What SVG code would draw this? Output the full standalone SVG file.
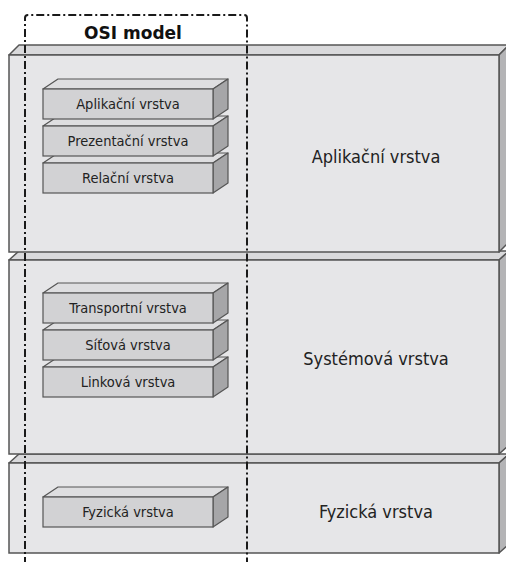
<svg xmlns="http://www.w3.org/2000/svg" width="506" height="562" viewBox="0 0 506 562">
<style>
.sf{fill:#e6e6e8;stroke:#555;stroke-width:1.5}
.st{fill:#d9d9db;stroke:#555;stroke-width:1.5;stroke-linejoin:round}
.ss{fill:#b4b4b6;stroke:#555;stroke-width:1.5;stroke-linejoin:round}
.bf{fill:#d2d2d4;stroke:#555;stroke-width:1.2}
.bt{fill:#dedee0;stroke:#555;stroke-width:1.2;stroke-linejoin:round}
.bs{fill:#a6a6a8;stroke:#555;stroke-width:1.2;stroke-linejoin:round}
.bl{font-family:"DejaVu Sans Condensed","Liberation Sans",sans-serif;font-size:14.5px;fill:#222;text-anchor:middle}
.sl{font-family:"DejaVu Sans Condensed","Liberation Sans",sans-serif;font-size:18px;fill:#222;text-anchor:middle}
.osi{fill:none;stroke:#1a1a1a;stroke-width:2;stroke-dasharray:8 3 2 3}
</style>
<g id="slab-fyzicka">
<polygon class="st" points="9,463 19,454 509,454 499,463"/>
<polygon class="ss" points="499,463 509,454 509,544 499,553"/>
<rect class="sf" x="9" y="463" width="490" height="90"/>
<text class="sl" x="376" y="518">Fyzická vrstva</text>
</g>
<g id="slab-systemova">
<polygon class="st" points="9,260 19,251 509,251 499,260"/>
<polygon class="ss" points="499,260 509,251 509,445 499,454"/>
<rect class="sf" x="9" y="260" width="490" height="194"/>
<text class="sl" x="376" y="365">Systémová vrstva</text>
</g>
<g id="slab-aplikacni">
<polygon class="st" points="9,55 19,45 509,45 499,55"/>
<polygon class="ss" points="499,55 509,45 509,242 499,252"/>
<rect class="sf" x="9" y="55" width="490" height="197"/>
<text class="sl" x="376" y="163">Aplikační vrstva</text>
</g>
<g id="box-relacni">
<polygon class="bt" points="43,163 58,153 228,153 213,163"/>
<polygon class="bs" points="213,163 228,153 228,183 213,193"/>
<rect class="bf" x="43" y="163" width="170" height="30"/>
<text class="bl" x="128" y="183">Relační vrstva</text>
</g>
<g id="box-prezentacni">
<polygon class="bt" points="43,126 58,116 228,116 213,126"/>
<polygon class="bs" points="213,126 228,116 228,146 213,156"/>
<rect class="bf" x="43" y="126" width="170" height="30"/>
<text class="bl" x="128" y="146">Prezentační vrstva</text>
</g>
<g id="box-aplikacni">
<polygon class="bt" points="43,89 58,79 228,79 213,89"/>
<polygon class="bs" points="213,89 228,79 228,109 213,119"/>
<rect class="bf" x="43" y="89" width="170" height="30"/>
<text class="bl" x="128" y="109">Aplikační vrstva</text>
</g>
<g id="box-linkova">
<polygon class="bt" points="43,367 58,357 228,357 213,367"/>
<polygon class="bs" points="213,367 228,357 228,387 213,397"/>
<rect class="bf" x="43" y="367" width="170" height="30"/>
<text class="bl" x="128" y="387">Linková vrstva</text>
</g>
<g id="box-sitova">
<polygon class="bt" points="43,330 58,320 228,320 213,330"/>
<polygon class="bs" points="213,330 228,320 228,350 213,360"/>
<rect class="bf" x="43" y="330" width="170" height="30"/>
<text class="bl" x="128" y="350">Síťová vrstva</text>
</g>
<g id="box-transportni">
<polygon class="bt" points="43,293 58,283 228,283 213,293"/>
<polygon class="bs" points="213,293 228,283 228,313 213,323"/>
<rect class="bf" x="43" y="293" width="170" height="30"/>
<text class="bl" x="128" y="313">Transportní vrstva</text>
</g>
<g id="box-fyzicka">
<polygon class="bt" points="43,497 58,487 228,487 213,497"/>
<polygon class="bs" points="213,497 228,487 228,517 213,527"/>
<rect class="bf" x="43" y="497" width="170" height="30"/>
<text class="bl" x="128" y="517">Fyzická vrstva</text>
</g>
<g id="osi-model">
<path class="osi" d="M25,565 V18 Q25,15 28,15 H244 Q247,15 247,18 V565"/>
<text x="133" y="39" style="font-family:'DejaVu Sans',Verdana,sans-serif;font-size:17px;font-weight:bold;fill:#111;text-anchor:middle">OSI model</text>
</g>
<g id="connectors"/>
</svg>
